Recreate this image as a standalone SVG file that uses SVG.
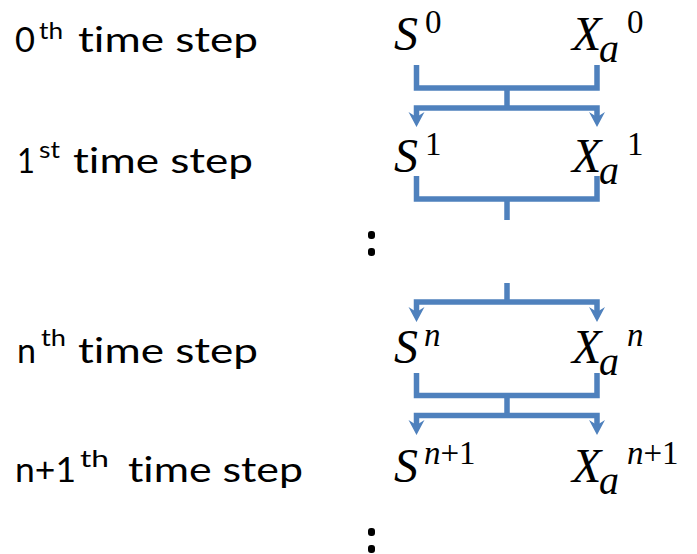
<svg xmlns="http://www.w3.org/2000/svg" width="697" height="554" viewBox="0 0 697 554">
<style>
.lbl{font-family:"Lato","Open Sans","Liberation Sans",sans-serif;font-size:35px;fill:#000;font-variant-ligatures:none}
.lsup{font-family:"Lato","Open Sans","Liberation Sans",sans-serif;font-size:23px;fill:#000;font-variant-ligatures:none}
.m{font-family:"Liberation Serif","DejaVu Serif",serif;font-size:48px;font-style:italic;fill:#000}
.msup{font-family:"Liberation Serif","DejaVu Serif",serif;font-size:33px;fill:#000}
.mi{font-style:italic}
.msub{font-family:"Liberation Serif","DejaVu Serif",serif;font-size:40px;font-style:italic;fill:#000}
.c{fill:none;stroke:#4F81BD;stroke-width:5.5;stroke-linejoin:miter;stroke-linecap:butt}
.ah{fill:#4F81BD}
</style>
<defs>
<path id="arr" d="M0,0 L-8,-15 L0,-10 L8,-15 Z"/>
</defs>

<g id="label-0">
<text class="lbl" x="15" y="52" textLength="20" lengthAdjust="spacingAndGlyphs">0</text>
<text class="lsup" x="39" y="39" textLength="24" lengthAdjust="spacingAndGlyphs">th</text>
<text class="lbl" x="78" y="52" textLength="180" lengthAdjust="spacingAndGlyphs">time step</text>
</g>
<g id="label-1">
<text class="lbl" x="17" y="173" textLength="18" lengthAdjust="spacingAndGlyphs">1</text>
<text class="lsup" x="39" y="158" textLength="21" lengthAdjust="spacingAndGlyphs">st</text>
<text class="lbl" x="73" y="173" textLength="180" lengthAdjust="spacingAndGlyphs">time step</text>
</g>
<g id="label-n">
<text class="lbl" x="17" y="363" textLength="19" lengthAdjust="spacingAndGlyphs">n</text>
<text class="lsup" x="41" y="346" textLength="25" lengthAdjust="spacingAndGlyphs">th</text>
<text class="lbl" x="78" y="363" textLength="180" lengthAdjust="spacingAndGlyphs">time step</text>
</g>
<g id="label-n1">
<text class="lbl" x="15" y="482" textLength="61" lengthAdjust="spacingAndGlyphs">n+1</text>
<text class="lsup" x="80" y="467" textLength="29" lengthAdjust="spacingAndGlyphs">th</text>
<text class="lbl" x="128" y="482" textLength="175" lengthAdjust="spacingAndGlyphs">time step</text>
</g>

<g id="S0">
<text class="m" x="394" y="50">S</text>
<text class="msup" x="425" y="33">0</text>
</g>
<g id="Xa0">
<text class="m" x="572" y="50">X</text>
<text class="msub" x="599" y="62">a</text>
<text class="msup" x="627" y="33">0</text>
</g>
<g id="S1">
<text class="m" x="394" y="172">S</text>
<text class="msup" x="425" y="155">1</text>
</g>
<g id="Xa1">
<text class="m" x="572" y="172">X</text>
<text class="msub" x="599" y="184">a</text>
<text class="msup" x="627" y="155">1</text>
</g>
<g id="Sn">
<text class="m" x="394" y="363">S</text>
<text class="msup mi" x="424" y="346">n</text>
</g>
<g id="Xan">
<text class="m" x="572" y="363">X</text>
<text class="msub" x="599" y="375">a</text>
<text class="msup mi" x="627" y="346">n</text>
</g>
<g id="Sn1">
<text class="m" x="394" y="482">S</text>
<text class="msup" x="424" y="464"><tspan class="mi">n</tspan>+1</text>
</g>
<g id="Xan1">
<text class="m" x="572" y="482">X</text>
<text class="msub" x="599" y="494">a</text>
<text class="msup" x="627" y="464"><tspan class="mi">n</tspan>+1</text>
</g>

<g id="ellipsis-1">
<rect x="368" y="231" width="7" height="8" rx="3"/>
<rect x="368" y="248" width="7" height="8" rx="3"/>
</g>
<g id="ellipsis-2">
<rect x="368" y="528" width="7" height="8" rx="3"/>
<rect x="368" y="545" width="7" height="8" rx="3"/>
</g>

<g id="connectors">
<path class="c" d="M416.5,65 V88 H597 V65"/>
<path class="c" d="M507,88 V108"/>
<path class="c" d="M416.5,118 V108 H597 V118"/>
<use href="#arr" class="ah" x="416.5" y="127"/>
<use href="#arr" class="ah" x="597" y="127"/>

<path class="c" d="M416.5,176 V199 H597 V176"/>
<path class="c" d="M507,199 V220"/>

<path class="c" d="M507,283 V302"/>
<path class="c" d="M416.5,312 V302 H597 V312"/>
<use href="#arr" class="ah" x="416.5" y="322"/>
<use href="#arr" class="ah" x="597" y="322"/>

<path class="c" d="M416.5,373 V395.5 H597 V373"/>
<path class="c" d="M507,395.5 V415.5"/>
<path class="c" d="M416.5,425 V415.5 H597 V425"/>
<use href="#arr" class="ah" x="416.5" y="435"/>
<use href="#arr" class="ah" x="597" y="435"/>
</g>
</svg>
